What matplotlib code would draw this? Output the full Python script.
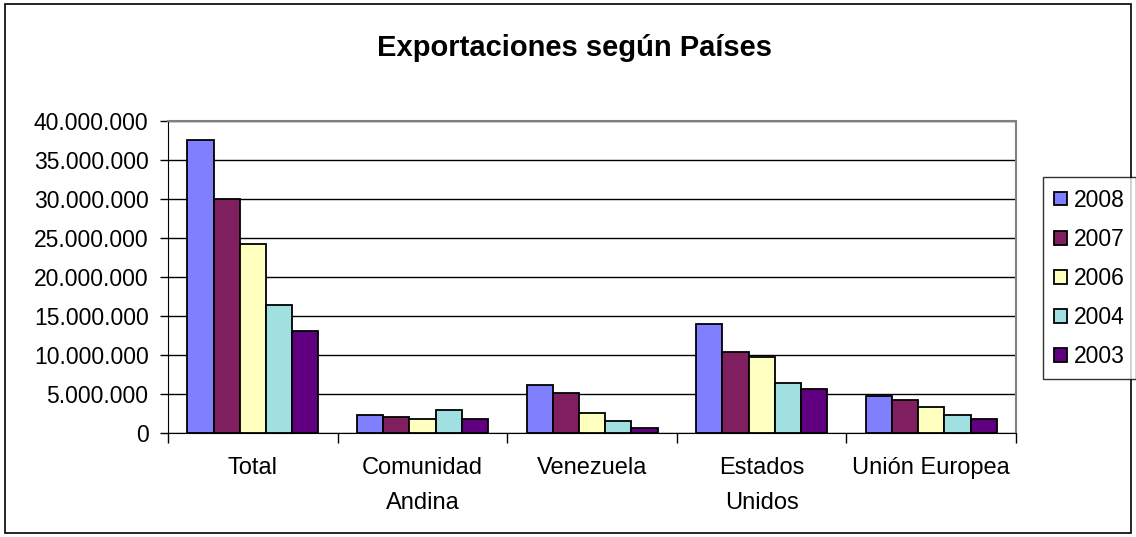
import numpy as np
import matplotlib.pyplot as plt
from matplotlib.patches import Rectangle
from matplotlib.ticker import FuncFormatter

categories = ["Total", "Comunidad\nAndina", "Venezuela", "Estados\nUnidos", "Unión Europea"]
years = ["2008", "2007", "2006", "2004", "2003"]
values_2008 = [37600000, 2390000, 6190000, 14050000, 4740000]
values_2007 = [30000000, 2130000, 5210000, 10460000, 4270000]
values_2006 = [24300000, 1880000, 2600000, 9740000, 3330000]
values_2004 = [16400000, 3030000, 1620000, 6450000, 2390000]
values_2003 = [13150000, 1880000, 680000, 5720000, 1880000]
series = [values_2008, values_2007, values_2006, values_2004, values_2003]
colors = ["#8080FF", "#7F1F5F", "#FFFFC0", "#A0E0E0", "#600080"]

plt.rcParams['font.family'] = ['Liberation Sans', 'DejaVu Sans']

fig = plt.figure(figsize=(11.36, 5.37), dpi=100)
ax = fig.add_axes([0.1479, 0.1931, 0.7465, 0.5816])

x = np.arange(len(categories))
w = 0.1545
for i, (vals, c, yr) in enumerate(zip(series, colors, years)):
    ax.bar(x + (i - 2) * w, vals, width=w, color=c, edgecolor="black",
           linewidth=1.3, label=yr, zorder=3)

ax.set_xlim(-0.5, len(categories) - 0.5)
ax.set_ylim(0, 40000000)
ax.set_yticks(np.arange(0, 40000001, 5000000))
ax.yaxis.set_major_formatter(FuncFormatter(lambda v, p: f"{int(v):,}".replace(",", ".")))
ax.grid(axis="y", color="black", linewidth=1.0, zorder=0)

ax.set_xticks(x)
ax.set_xticklabels(categories, fontsize=17, linespacing=1.75)
ax.tick_params(axis="x", length=0, pad=17)
ax.set_xticks(np.arange(-0.5, len(categories), 1), minor=True)
ax.tick_params(axis="x", which="minor", length=7, width=1, color="black")
ax.tick_params(axis="y", labelsize=16.5, length=6, width=1, pad=8)

for s in ["top", "right"]:
    ax.spines[s].set_color("#808080")
    ax.spines[s].set_linewidth(1.5)
ax.spines["left"].set_color("black")
ax.spines["bottom"].set_color("black")

fig.text(0.506, 0.910, "Exportaciones según Países", ha="center", va="center",
         fontsize=21, fontweight="bold")

leg = fig.legend(loc="upper left", bbox_to_anchor=(0.918, 0.670), fontsize=16.5,
                 frameon=True, fancybox=False, edgecolor="black",
                 handlelength=0.55, handleheight=0.55, handletextpad=0.3,
                 labelspacing=0.7, borderpad=0.5, borderaxespad=0)
leg.get_frame().set_linewidth(1.0)

fig.patches.append(Rectangle((0.004, 0.008), 0.992, 0.984, transform=fig.transFigure,
                             fill=False, edgecolor="black", linewidth=1.2))

fig.savefig("out.png", dpi=100)
